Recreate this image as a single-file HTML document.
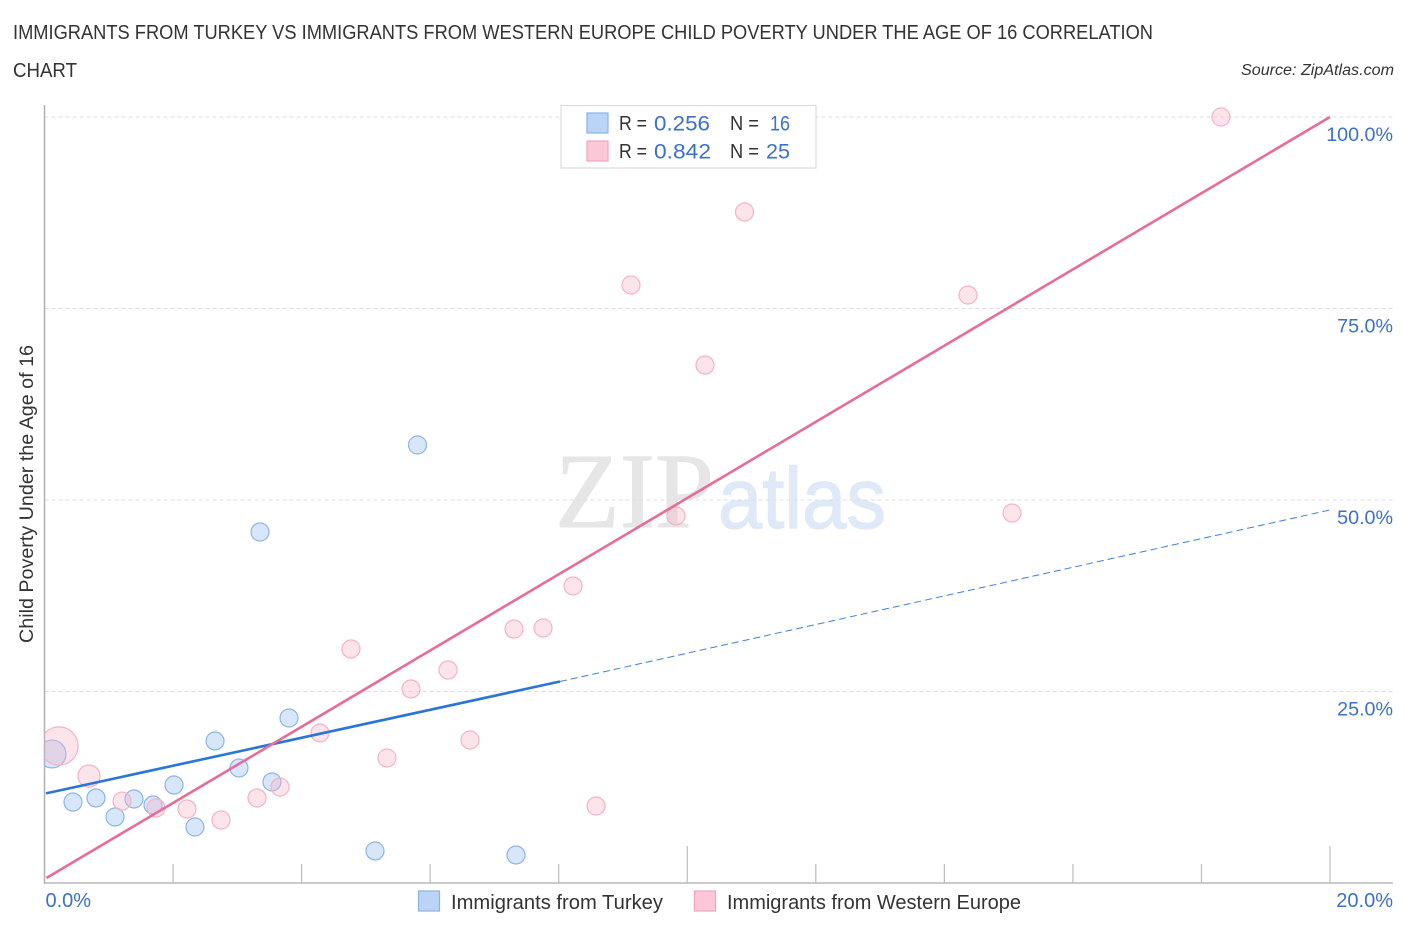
<!DOCTYPE html>
<html lang="en">
<head>
<meta charset="utf-8">
<title>Child Poverty Correlation Chart</title>
<style>
html,body{margin:0;padding:0;background:#fff;width:1406px;height:930px;overflow:hidden}
svg{display:block;font-family:"Liberation Sans",sans-serif}
</style>
</head>
<body>
<svg id="chart" width="1406" height="930" viewBox="0 0 1406 930" xmlns="http://www.w3.org/2000/svg">
  <defs><clipPath id="plot-clip"><rect x="44.5" y="100" width="1350" height="783"/></clipPath></defs>
  <text x="13" y="39" font-size="20" fill="#333" textLength="1140" lengthAdjust="spacingAndGlyphs">IMMIGRANTS FROM TURKEY VS IMMIGRANTS FROM WESTERN EUROPE CHILD POVERTY UNDER THE AGE OF 16 CORRELATION</text>
  <text x="13" y="77" font-size="20" fill="#333" textLength="64" lengthAdjust="spacingAndGlyphs">CHART</text>
  <text x="1241" y="75" font-size="15.5" font-style="italic" fill="#333" textLength="153" lengthAdjust="spacingAndGlyphs">Source: ZipAtlas.com</text>
  <g>
    <text x="555" y="527" font-family="'Liberation Serif',serif" font-size="107" fill="#e6e6e6" stroke="#e6e6e6" stroke-width="1" textLength="159" lengthAdjust="spacingAndGlyphs">ZIP</text>
    <text x="718" y="528" font-size="86" fill="#dfe9f8" stroke="#dfe9f8" stroke-width="1.2" textLength="168" lengthAdjust="spacingAndGlyphs">atlas</text>
  </g>
  <g id="grid"></g>
  <g id="ticks"></g>
  <line x1="44.5" y1="105" x2="44.5" y2="884" stroke="#b0b0b0" stroke-width="1.5"/>
  <line x1="44" y1="883" x2="1393" y2="883" stroke="#b8b8b8" stroke-width="1.5"/>
  <g id="y-labels"></g>
  <g id="x-labels"></g>
  <g id="points" clip-path="url(#plot-clip)"></g>
  <g id="trends"></g>
  <text transform="translate(33,494) rotate(-90)" text-anchor="middle" font-size="19" fill="#333" textLength="298" lengthAdjust="spacingAndGlyphs">Child Poverty Under the Age of 16</text>
  <g>
    <rect x="561" y="105.500" width="255" height="62.500" fill="#fff" stroke="#dcdcdc" stroke-width="1.200"/>
    <rect x="587" y="113" width="21" height="20" fill="#b9d4f6" stroke="#8ab2e6" stroke-width="1.200"/>
    <rect x="587" y="141" width="21" height="20" fill="#fcc8d8" stroke="#f4a3bd" stroke-width="1.200"/>
    <g font-size="20" fill="#333">
      <text x="619" y="130" textLength="28" lengthAdjust="spacingAndGlyphs">R =</text>
      <text x="619" y="158" textLength="28" lengthAdjust="spacingAndGlyphs">R =</text>
      <text x="730" y="130" textLength="29" lengthAdjust="spacingAndGlyphs">N =</text>
      <text x="730" y="158" textLength="29" lengthAdjust="spacingAndGlyphs">N =</text>
    </g>
    <g font-size="21" fill="#3b70cc">
      <text x="654" y="130.500" textLength="56" lengthAdjust="spacingAndGlyphs">0.256</text>
      <text x="654" y="158.500" textLength="57" lengthAdjust="spacingAndGlyphs">0.842</text>
      <text x="770" y="130.500" textLength="20" lengthAdjust="spacingAndGlyphs">16</text>
      <text x="766" y="158.500" textLength="24" lengthAdjust="spacingAndGlyphs">25</text>
    </g>
  </g>
  <g>
    <g>
      <rect x="418.500" y="891" width="21" height="20" fill="#b9d4f6" stroke="#8ab2e6" stroke-width="1.200"/>
      <text x="451" y="909" font-size="20" fill="#333" textLength="212" lengthAdjust="spacingAndGlyphs">Immigrants from Turkey</text>
    </g>
    <g>
      <rect x="694.500" y="891" width="21" height="20" fill="#fcc8d8" stroke="#f4a3bd" stroke-width="1.200"/>
      <text x="727" y="909" font-size="20" fill="#333" textLength="294" lengthAdjust="spacingAndGlyphs">Immigrants from Western Europe</text>
    </g>
  </g>
</svg>
<script>
var turkeyX = [0.117,0.443,0.801,1.097,1.392,1.688,2.015,2.341,2.653,3.026,3.353,3.539,3.804,5.142,5.803,7.336];
var turkeyY = [16.84,10.57,11.10,8.62,10.97,10.18,12.79,7.31,18.54,15.01,45.82,13.19,21.54,4.18,57.18,3.66];
var turkeyWeight = [2.4,1,1,1,1,1,1,1,1,1,1,1,1,1,1,1];
var europeX = [0.226,0.692,1.206,1.735,2.217,2.746,3.306,3.664,4.286,4.768,5.329,5.702,6.278,6.620,7.305,7.756,8.223,8.581,9.125,9.825,10.276,10.891,14.368,15.053,18.304];
var europeY = [17.89,13.97,10.70,9.79,9.66,8.22,11.10,12.53,19.58,30.55,16.32,25.33,27.81,18.67,33.16,33.29,38.77,10.05,78.07,47.91,67.62,87.60,76.76,48.30,100.0];
var europeWeight = [4.5,1.5,1,1,1,1,1,1,1,1,1,1,1,1,1,1,1,1,1,1,1,1,1,1,1];
var turkeyTrendX = [0.023,8.02,20];
var turkeyTrendY = [11.7,26.3,48.7];
var europeTrendX = [0.03,20];
var europeTrendY = [0.65,100];
var yTicks = [25,50,75,100];
var yTickLabels = ["25.0%","50.0%","75.0%","100.0%"];
var xTicks = [2,4,6,8,10,12,14,16,18,20];
var xMajorTicks = [10,20];
var xEndTicks = [0,20];
var xEndLabels = ["0.0%","20.0%"];

var NS = "http://www.w3.org/2000/svg";
function xScale(v){ return 44.5 + v * 64.275; }
function yScale(v){ return 883 - v * 7.66; }
function rScale(w){ return 9 * Math.sqrt(w); }
function make(tag, attrs, parent){
  var el = document.createElementNS(NS, tag);
  for (var k in attrs) el.setAttribute(k, attrs[k]);
  parent.appendChild(el);
  return el;
}
var gridG = document.getElementById("grid");
var ticksG = document.getElementById("ticks");
var yLabG = document.getElementById("y-labels");
var xLabG = document.getElementById("x-labels");
var ptsG = document.getElementById("points");
var trG = document.getElementById("trends");

yTicks.forEach(function(t, i){
  var l = make("line", {x1:44.5, x2:1393, y1:yScale(t), y2:yScale(t), stroke:"#dedede", "stroke-width":1, "stroke-dasharray":"4 3"}, gridG);
  
  
  var s = make("text", {x:1393, y:yScale(t)+24, "text-anchor":"end", "font-size":19.7, fill:"#3b70cc"}, yLabG);
  s.textContent = yTickLabels[i];
  
  
});
xTicks.forEach(function(t){
  var major = xMajorTicks.indexOf(t) >= 0;
  var l = make("line", {x1:xScale(t), x2:xScale(t), y1:major ? 846 : 864, y2:883, stroke:"#bdbdbd", "stroke-width":1.2}, ticksG);
  
  
});
xEndTicks.forEach(function(t, i){
  var s = make("text", {x: i === 0 ? xScale(t) + 1 : 1393, y:907, "text-anchor": i === 0 ? "start" : "end", "font-size":20, fill:"#3b70cc"}, xLabG);
  s.textContent = xEndLabels[i];
  
  
});
function drawPoints(xs, ys, ws, fill, stroke, name){
  xs.forEach(function(x, i){
    var c = make("circle", {cx:xScale(x), cy:yScale(ys[i]), r:rScale(ws[i]), fill:fill, stroke:stroke, "stroke-width":1.2}, ptsG);
    
    
  });
}
drawPoints(turkeyX, turkeyY, turkeyWeight, "rgba(150,190,240,0.38)", "#8db5e8", "turkey-point");
drawPoints(europeX, europeY, europeWeight, "rgba(248,180,200,0.36)", "#f5b2c7", "western-europe-point");

var tSolid = make("line", {x1:xScale(turkeyTrendX[0]), y1:yScale(turkeyTrendY[0]), x2:xScale(turkeyTrendX[1]), y2:yScale(turkeyTrendY[1]), stroke:"#2b74d8", "stroke-width":2.6}, trG);


var tDash = make("line", {x1:xScale(turkeyTrendX[1]), y1:yScale(turkeyTrendY[1]), x2:xScale(turkeyTrendX[2]), y2:yScale(turkeyTrendY[2]), stroke:"#3f80da", "stroke-width":1, "stroke-dasharray":"7 4"}, trG);


var eLine = make("line", {x1:xScale(europeTrendX[0]), y1:yScale(europeTrendY[0]), x2:xScale(europeTrendX[1]), y2:yScale(europeTrendY[1]), stroke:"#e76c98", "stroke-width":2.6}, trG);


</script>
</body>
</html>
